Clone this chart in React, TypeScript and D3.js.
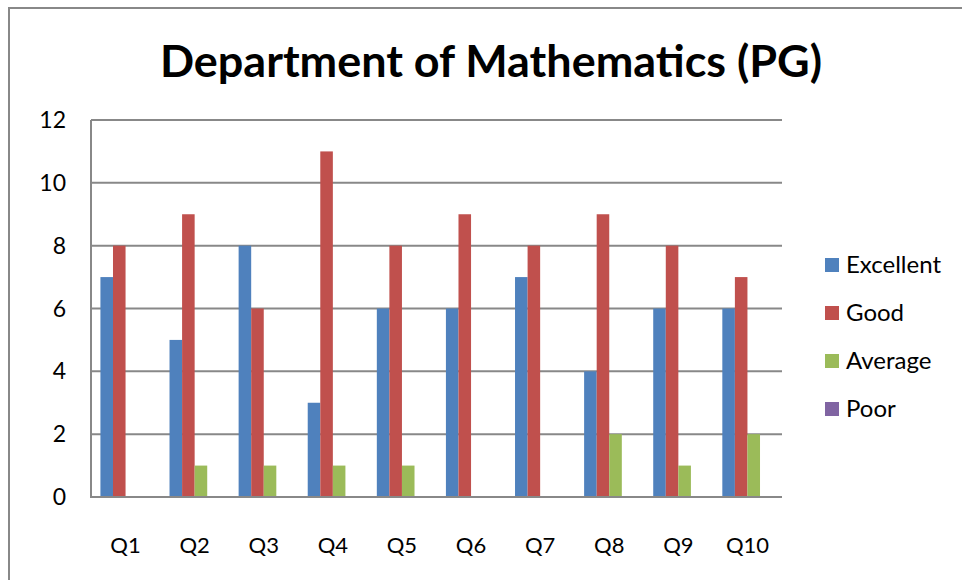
import { useRef, useEffect } from "react";
import * as d3 from "d3";

const questions = ["Q1", "Q2", "Q3", "Q4", "Q5", "Q6", "Q7", "Q8", "Q9", "Q10"];
const seriesNames = ["Excellent", "Good", "Average", "Poor"];
const excellent = [7, 5, 8, 3, 6, 6, 7, 4, 6, 6];
const good = [8, 9, 6, 11, 8, 9, 8, 9, 8, 7];
const average = [0, 1, 1, 1, 1, 0, 0, 2, 1, 2];
const poor = [0, 0, 0, 0, 0, 0, 0, 0, 0, 0];
const yTicks = [0, 2, 4, 6, 8, 10, 12];
const colors = ["#4F81BD", "#C0504D", "#9BBB59", "#8064A2"];

export default function App() {
  const ref = useRef<SVGSVGElement>(null);
  useEffect(() => {
    if (!ref.current) return;
    const svg = d3.select(ref.current);
    svg.selectAll("*").remove();
    const W = 962, H = 580;
    const plot = { left: 91, right: 782, top: 120, bottom: 497 };
    const font = "Lato, 'Open Sans', sans-serif";
    const values = [excellent, good, average, poor];

    svg.append("rect").attr("width", W).attr("height", H).attr("fill", "#fff");
    // outer chart frame
    svg.append("rect").attr("x", 9).attr("y", 8).attr("width", W + 10).attr("height", H + 10)
      .attr("fill", "none").attr("stroke", "#888").attr("stroke-width", 2);

    svg.append("text").attr("x", 491).attr("y", 77).attr("text-anchor", "middle")
      .attr("font-family", font).attr("font-weight", "700").attr("font-size", 43)
      .attr("textLength", 662).attr("lengthAdjust", "spacingAndGlyphs")
      .text("Department of Mathematics (PG)");

    const x = d3.scaleBand().domain(questions).range([plot.left, plot.right]);
    const inner = d3.scaleBand().domain(seriesNames).range([0, x.bandwidth()]).paddingInner(0).paddingOuter(0.75);
    const y = d3.scaleLinear().domain([0, 12]).range([plot.bottom, plot.top]);

    const g = svg.append("g");
    g.selectAll(".grid").data(yTicks.filter(t => t > 0)).join("line")
      .attr("x1", plot.left).attr("x2", plot.right)
      .attr("y1", d => y(d)).attr("y2", d => y(d))
      .attr("stroke", "#888").attr("stroke-width", 2);

    seriesNames.forEach((s, si) => {
      g.append("g").selectAll("rect").data(questions).join("rect")
        .attr("x", q => x(q)! + inner(s)!)
        .attr("y", (q, i) => y(values[si][i]))
        .attr("width", inner.bandwidth())
        .attr("height", (q, i) => y(0) - y(values[si][i]))
        .attr("fill", colors[si]);
    });

    // axes lines
    g.append("line").attr("x1", plot.left).attr("x2", plot.left).attr("y1", plot.top).attr("y2", plot.bottom)
      .attr("stroke", "#888").attr("stroke-width", 2);
    g.append("line").attr("x1", plot.left - 1).attr("x2", plot.right).attr("y1", plot.bottom).attr("y2", plot.bottom)
      .attr("stroke", "#888").attr("stroke-width", 2);

    g.selectAll(".ytick").data(yTicks).join("text")
      .attr("x", 66).attr("y", d => y(d)).attr("dy", "0.35em").attr("text-anchor", "end")
      .attr("font-family", font).attr("font-size", 23).attr("fill", "#000").text(d => d);

    g.selectAll(".xtick").data(questions).join("text")
      .attr("x", d => x(d)! + x.bandwidth() / 2).attr("y", 545).attr("dy", "0.35em").attr("text-anchor", "middle")
      .attr("font-family", font).attr("font-size", 22).attr("fill", "#000").text(d => d);

    const legend = svg.append("g").attr("transform", "translate(825,265)");
    const ly = d3.scalePoint().domain(seriesNames).range([0, 144]);
    legend.selectAll("rect").data(seriesNames).join("rect")
      .attr("x", 0).attr("y", d => ly(d)! - 7).attr("width", 14).attr("height", 14)
      .attr("fill", (d, i) => colors[i]);
    legend.selectAll("text").data(seriesNames).join("text")
      .attr("x", 21).attr("y", d => ly(d)!).attr("dy", "0.35em")
      .attr("font-family", font).attr("font-size", 24).attr("fill", "#000").text(d => d);
  }, []);

  return (
    <svg ref={ref} width={962} height={580} style={{ position: "absolute", left: 0, top: 0, display: "block" }} />
  );
}
